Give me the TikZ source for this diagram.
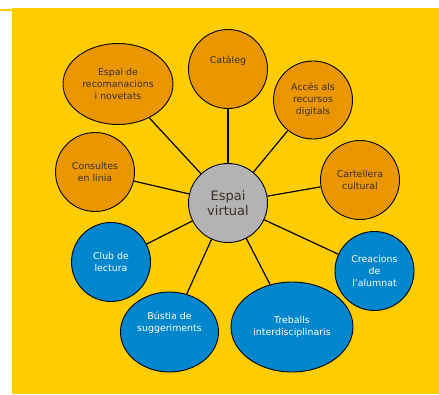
\documentclass[tikz,border=0pt]{standalone}
\usepackage{fontspec}
\setmainfont{DejaVu Sans}
\usetikzlibrary{shapes.geometric}
\definecolor{bgyellow}{HTML}{FFCC00}
\definecolor{nodeorange}{HTML}{EA9600}
\definecolor{nodeblue}{HTML}{0086CC}
\definecolor{nodegray}{HTML}{B3B3B3}
\definecolor{darktext}{HTML}{3A3020}
\begin{document}
\begin{tikzpicture}[x=1pt,y=1pt,
  bubble/.style={ellipse, draw=black, line width=0.9pt, inner sep=0pt, align=center,
     font=\fontsize{9.4}{11.8}\selectfont},
  orangebub/.style={bubble, fill=nodeorange, text=darktext},
  bluebub/.style={bubble, fill=nodeblue, text=white},
  centerbub/.style={bubble, fill=nodegray, text=darktext, font=\fontsize{13}{15.5}\selectfont},
  link/.style={draw=black, line width=1.2pt}]
\useasboundingbox (0,0) rectangle (439,394);
\fill[bgyellow] (12,0) rectangle (439,386);
\draw[bgyellow, line width=2pt] (0,384) -- (12,384);

\node[centerbub, minimum width=79pt, minimum height=79pt] (c) at (228,191) {Espai\\virtual};

\node[orangebub, minimum width=110pt, minimum height=81pt] (rec) at (118,310) {Espai de\\recomanacions\\i novetats};
\node[orangebub, minimum width=79pt, minimum height=79pt] (cat) at (228,325) {Catàleg\\[6pt]};
\node[orangebub, minimum width=79pt, minimum height=78pt] (acc) at (313,294) {Accés als\\recursos\\digitals};
\node[orangebub, minimum width=79pt, minimum height=79pt] (cons) at (95,222) {Consultes\\en linia};
\node[orangebub, minimum width=79pt, minimum height=79pt] (cart) at (360,214) {Cartellera\\cultural};
\node[bluebub, minimum width=79pt, minimum height=79pt] (club) at (111,132) {Club de\\lectura};
\node[bluebub, minimum width=79pt, minimum height=79pt] (crea) at (374.5,123) {Creacions\\de\\l'alumnat};
\node[bluebub, minimum width=98pt, minimum height=80pt] (bus) at (169.5,62) {Bústia de\\suggeriments\\[8pt]};
\node[bluebub, minimum width=122pt, minimum height=90pt] (treb) at (292,67) {Treballs\\interdisciplinaris};

\foreach \n in {rec,cat,acc,cons,cart,club,crea,bus,treb}
  \path[link] (c) -- (\n);
\end{tikzpicture}
\end{document}
